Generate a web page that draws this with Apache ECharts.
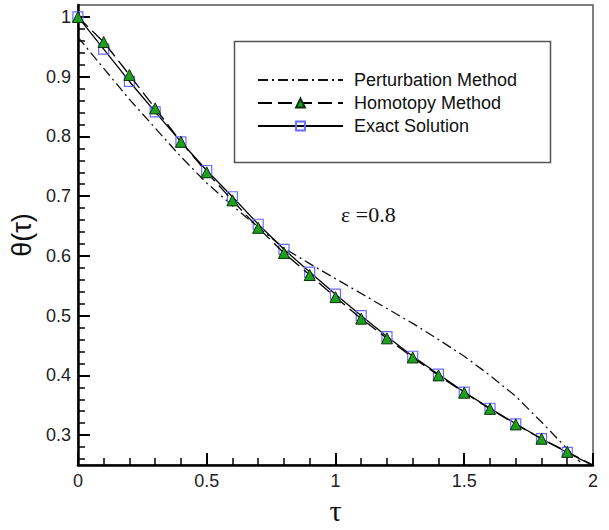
<!DOCTYPE html>
<html>
<head>
<meta charset="utf-8">
<script src="https://cdn.jsdelivr.net/npm/echarts@6/dist/echarts.min.js"></script>
<style>
  html, body { margin: 0; padding: 0; background: #fff; }
  #chart { width: 609px; height: 530px; }
</style>
</head>
<body>
<div id="chart"></div>
<script>
// ---- data ----
const tauValues = [0, 0.1, 0.2, 0.3, 0.4, 0.5, 0.6, 0.7, 0.8, 0.9, 1.0, 1.1, 1.2, 1.3, 1.4, 1.5, 1.6, 1.7, 1.8, 1.9, 2.0];
const exactValues = [1.0, 0.946, 0.892, 0.841, 0.791, 0.743, 0.699, 0.653, 0.611, 0.573, 0.536, 0.500, 0.465, 0.432, 0.402, 0.372, 0.345, 0.319, 0.294, 0.271, 0.249];
const homotopyValues = [1.0, 0.958, 0.903, 0.847, 0.791, 0.740, 0.693, 0.647, 0.605, 0.568, 0.531, 0.495, 0.462, 0.430, 0.400, 0.371, 0.344, 0.318, 0.294, 0.272, 0.250];
const perturbationTau = [0, 0.1, 0.2, 0.3, 0.4, 0.5, 0.6, 0.7, 0.8, 0.9, 1.0, 1.1, 1.2, 1.3, 1.4, 1.5, 1.6, 1.7, 1.8, 1.9, 1.95];
const perturbationValues = [0.966, 0.914, 0.862, 0.814, 0.766, 0.722, 0.684, 0.648, 0.613, 0.587, 0.562, 0.537, 0.512, 0.487, 0.460, 0.432, 0.400, 0.365, 0.322, 0.277, 0.255];
const seriesNames = ['Perturbation Method', 'Homotopy Method', 'Exact Solution'];
const xTickLabels = [0, 0.5, 1, 1.5, 2];
const yMajorTicks = [0.3, 0.4, 0.5, 0.6, 0.7, 0.8, 0.9, 1.0];
const yMinorTicks = [0.26, 0.28, 0.32, 0.34, 0.36, 0.38, 0.42, 0.44, 0.46, 0.48, 0.52, 0.54, 0.56, 0.58, 0.62, 0.64, 0.66, 0.68, 0.72, 0.74, 0.76, 0.78, 0.82, 0.84, 0.86, 0.88, 0.92, 0.94, 0.96, 0.98, 1.0];
const markerLastTau = 1.9; // markers are drawn only up to this tau
const annotationText = 'ε =0.8';

const markedPoints = (xs, ys) => xs.map((x, i) =>
  x <= markerLastTau + 1e-9 ? [x, ys[i]] : { value: [x, ys[i]], symbol: 'none' });

const chart = echarts.init(document.getElementById('chart'), null, { renderer: 'svg' });

const sansFont = 'Liberation Sans, Arial, sans-serif';
const serifFont = 'Liberation Serif, Times New Roman, serif';

const option = {
  animation: false,
  backgroundColor: '#ffffff',
  grid: {
    left: 77, right: 16, top: 5, bottom: 48,
    show: true, borderColor: '#555', borderWidth: 1.5, backgroundColor: 'transparent'
  },
  xAxis: {
    type: 'value', min: 0, max: 2, interval: 0.5,
    name: 'τ', nameLocation: 'middle', nameGap: 30,
    nameTextStyle: { fontFamily: serifFont, fontSize: 30, color: '#111' },
    axisLine: { show: true, onZero: false, lineStyle: { color: '#000', width: 2.5 } },
    axisTick: { show: true, inside: true, length: 12, lineStyle: { color: '#000', width: 2 } },
    minorTick: { show: true, splitNumber: 5, length: 7, lineStyle: { color: '#000', width: 1.5 } },
    axisLabel: {
      margin: 7, fontFamily: sansFont, fontSize: 18, color: '#222',
      formatter: v => xTickLabels.includes(Math.round(v * 10) / 10) ? String(Math.round(v * 10) / 10) : ''
    },
    splitLine: { show: false }
  },
  yAxis: [
    {
      type: 'value', min: 0.25, max: 1.02,
      name: 'θ(τ)', nameLocation: 'middle', nameGap: 40, nameRotate: 90,
      nameTextStyle: { fontFamily: sansFont, fontSize: 27, color: '#111' },
      axisLine: { show: true, onZero: false, lineStyle: { color: '#000', width: 2.5 } },
      axisTick: { show: true, inside: true, length: 12, customValues: yMajorTicks, lineStyle: { color: '#000', width: 2 } },
      axisLabel: {
        margin: 7, fontFamily: sansFont, fontSize: 18, color: '#222',
        customValues: yMajorTicks,
        formatter: v => String(Math.round(v * 10) / 10)
      },
      splitLine: { show: false }
    },
    {
      type: 'value', min: 0.25, max: 1.02, position: 'left',
      axisLine: { show: false },
      axisTick: { show: true, inside: true, length: 7, customValues: yMinorTicks, lineStyle: { color: '#000', width: 1.5 } },
      axisLabel: { show: false },
      splitLine: { show: false }
    }
  ],
  legend: {
    orient: 'vertical', left: 257, top: 71, padding: 0,
    itemWidth: 85, itemHeight: 11, itemGap: 5,
    data: [
      { name: seriesNames[0], itemStyle: { opacity: 0 } },
      { name: seriesNames[1] },
      { name: seriesNames[2] }
    ],
    textStyle: { fontFamily: sansFont, fontSize: 18, color: '#111', padding: [0, 0, 0, 6] },
    selectedMode: false
  },
  graphic: [
    {
      type: 'rect', left: 232, top: 39, z: 100,
      shape: { width: 316, height: 121 },
      style: { fill: 'none', stroke: '#555', lineWidth: 1.5 }
    },
    {
      type: 'text', left: 341, top: 203, z: 100,
      style: { text: annotationText, font: '22px ' + serifFont, fill: '#111' }
    }
  ],
  series: [
    {
      name: seriesNames[2], type: 'line', yAxisIndex: 0,
      data: markedPoints(tauValues, exactValues),
      symbol: 'rect', symbolSize: 10, showAllSymbol: true,
      lineStyle: { color: '#000', width: 1.3, type: 'solid' },
      itemStyle: { color: 'rgba(255,255,255,0)', borderColor: '#6a6aff', borderWidth: 1.2 },
      z: 2
    },
    {
      name: seriesNames[1], type: 'line', yAxisIndex: 0,
      data: markedPoints(tauValues, homotopyValues),
      symbol: 'triangle', symbolSize: 11, showAllSymbol: true,
      lineStyle: { color: '#000', width: 1.3, type: [14, 6] },
      itemStyle: { color: '#1ea01e', borderColor: '#0a300a', borderWidth: 1 },
      z: 3
    },
    {
      name: seriesNames[0], type: 'line', yAxisIndex: 0,
      data: perturbationTau.map((x, i) => [x, perturbationValues[i]]),
      symbol: 'none',
      lineStyle: { color: '#111', width: 1.3, type: [10, 4, 2, 4] },
      itemStyle: { color: '#111' },
      z: 1
    }
  ]
};

chart.setOption(option);
</script>
</body>
</html>
